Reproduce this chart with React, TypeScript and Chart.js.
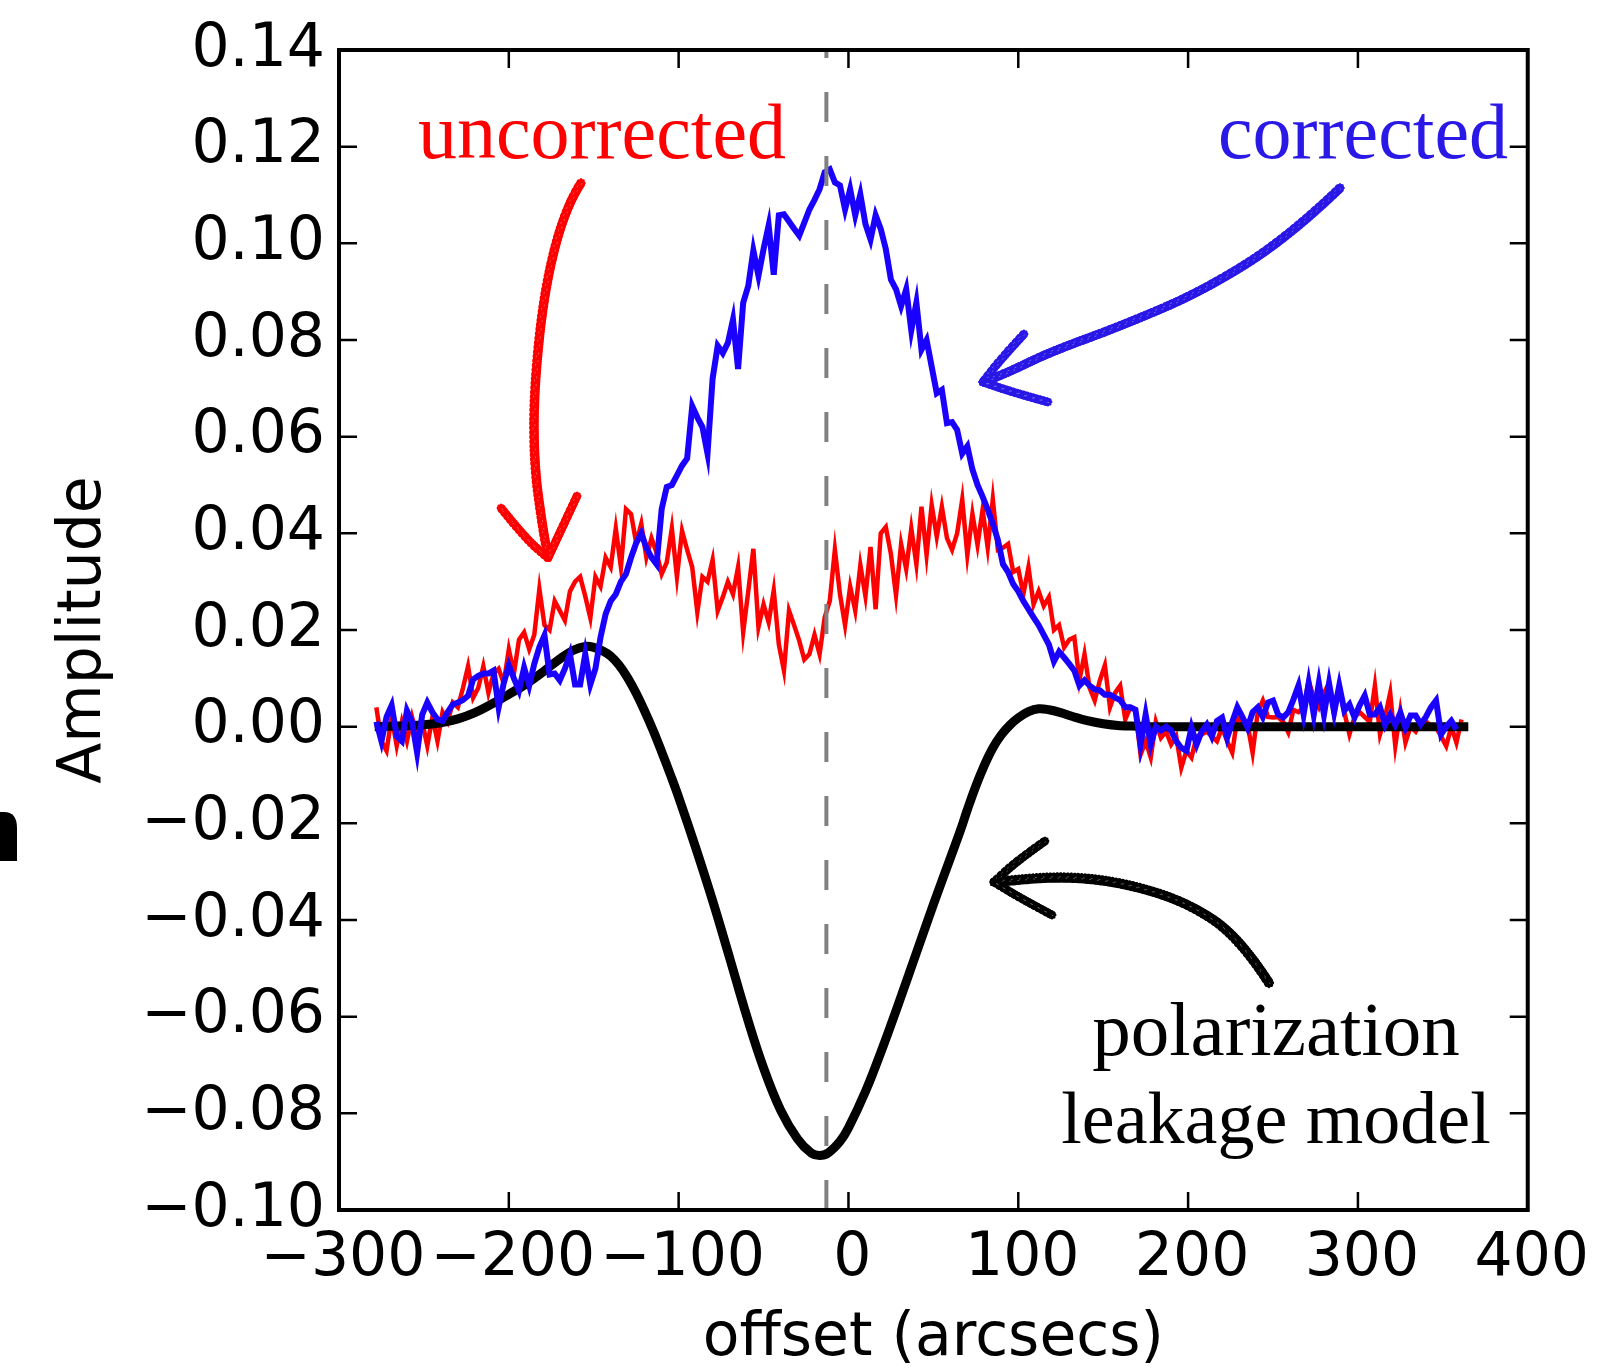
import React, { useEffect, useRef } from "react";
import { Chart, registerables } from "chart.js";

Chart.register(...registerables);

// ---- data -------------------------------------------------------------
// offsets sampled on a regular grid (arcsec) for the two measured profiles
const GRID_START = -278;
const GRID_STEP = 3;

// uncorrected amplitude (red)
const uncorrected = [
  0.004, -0.003, -0.005, 0.002, -0.004, 0.001, -0.003, 0.002, -0.002, 0.001,
  -0.004, 0.002, -0.003, 0.003, 0.001, 0.005, 0.004, 0.008, 0.0125, 0.006,
  0.008, 0.0125, 0.007, 0.011, 0.012, 0.009, 0.016, 0.011, 0.018, 0.0195,
  0.016, 0.019, 0.0285, 0.021, 0.020, 0.026, 0.024, 0.022, 0.028, 0.030,
  0.031, 0.027, 0.0225, 0.031, 0.029, 0.035, 0.033, 0.041, 0.033, 0.045,
  0.044, 0.038, 0.042, 0.035, 0.039, 0.036, 0.0316, 0.034, 0.041, 0.031,
  0.0405, 0.0366, 0.033, 0.0237, 0.031, 0.030, 0.0345, 0.024, 0.0268, 0.030,
  0.0274, 0.033, 0.0195, 0.028, 0.0368, 0.0206, 0.0253, 0.0216, 0.0282, 0.017,
  0.0116, 0.024, 0.021, 0.0178, 0.0139, 0.015, 0.019, 0.015, 0.0226, 0.026,
  0.0366, 0.0274, 0.021, 0.029, 0.024, 0.0334, 0.027, 0.0372, 0.0243, 0.040,
  0.0413, 0.0357, 0.0272, 0.0378, 0.0326, 0.041, 0.0336, 0.0455, 0.0355, 0.0459,
  0.0393, 0.0455, 0.039, 0.0366, 0.040, 0.047, 0.0355, 0.044, 0.0376, 0.0449,
  0.037, 0.047, 0.0366, 0.037, 0.0378, 0.032, 0.0326, 0.0274, 0.033, 0.0253,
  0.028, 0.025, 0.0268, 0.020, 0.021, 0.0164, 0.018, 0.0185, 0.0096, 0.015,
  0.008, 0.0054, 0.0095, 0.0127, 0.004, 0.007, 0.0085, 0.0015, 0.004, 0.0035,
  -0.0058, -0.003, -0.0064, 0.001, -0.0023, -0.001, -0.0037, -0.002, -0.0085, -0.005,
  -0.0064, -0.002, -0.0016, -0.001, -0.002, -0.003, -0.0002, -0.003, -0.0054, 0.0019,
  0.001, 0.0005, -0.0054, 0.003, 0.0054, 0.002, 0.0019, 0.002, 0.001, -0.0012,
  0.0035, 0.003, 0.004, 0.0095, 0.006, 0.004, 0.007, 0.009, 0.0025, 0.008,
  0.003, -0.0016, 0.002, 0.003, 0.002, 0.001, 0.0085, -0.0016, 0.002, 0.007,
  -0.004, 0.0033, -0.0033, 0.0, -0.001, 0.001, 0.0012, 0.0, -0.0002, -0.002,
  -0.004, 0.0, -0.0033, 0.0015,
];

// corrected amplitude (blue)
const corrected = [
  0.001, -0.003, 0.002, 0.0044, -0.002, -0.003, 0.0033, 0.001, -0.0054, 0.0025,
  0.005, 0.003, 0.0015, 0.0012, 0.003, 0.0046, 0.005, 0.0055, 0.0064, 0.0098,
  0.0105, 0.011, 0.011, 0.0116, 0.004, 0.009, 0.0127, 0.010, 0.0075, 0.0122,
  0.0085, 0.013, 0.0165, 0.0189, 0.0108, 0.011, 0.0096, 0.012, 0.015, 0.0087,
  0.0087, 0.015, 0.0087, 0.012, 0.0185, 0.0233, 0.026, 0.0274, 0.030, 0.0316,
  0.035, 0.038, 0.040, 0.037, 0.035, 0.0336, 0.045, 0.0496, 0.050, 0.052,
  0.054, 0.0555, 0.0663, 0.064, 0.062, 0.0565, 0.072, 0.0788, 0.0773, 0.0794,
  0.0842, 0.074, 0.0877, 0.0912, 0.0985, 0.0933, 0.0988, 0.1037, 0.0935, 0.1058,
  0.106, 0.1045, 0.103, 0.1016, 0.1043, 0.107, 0.109, 0.1112, 0.1147, 0.1153,
  0.1126, 0.112, 0.107, 0.1112, 0.1058, 0.1101, 0.104, 0.1008, 0.1058, 0.103,
  0.0988, 0.0925, 0.0905, 0.087, 0.0905, 0.082, 0.0877, 0.078, 0.080, 0.0745,
  0.069, 0.0697, 0.0628, 0.063, 0.0614, 0.0565, 0.058, 0.0532, 0.050, 0.0476,
  0.0449, 0.042, 0.0386, 0.0336, 0.032, 0.0295, 0.028, 0.026, 0.0243, 0.0226,
  0.021, 0.019, 0.017, 0.0135, 0.0155, 0.0143, 0.013, 0.0116, 0.0085, 0.0096,
  0.0085, 0.0077, 0.0075, 0.0066, 0.0066, 0.006, 0.0055, 0.004, 0.004, 0.0035,
  -0.0037, 0.0025, -0.0037, 0.0, -0.0008, 0.0, -0.0008, -0.003, -0.0044, -0.005,
  -0.0002, -0.0037, -0.001, 0.0004, -0.002, 0.0012, 0.0019, -0.0023, 0.001, 0.004,
  0.002, -0.0002, 0.003, 0.004, 0.002, 0.005, 0.0054, 0.0025, 0.0019, 0.003,
  0.0056, 0.0085, 0.0025, 0.009, 0.0025, 0.009, 0.0025, 0.009, 0.003, 0.0085,
  0.0033, 0.0046, 0.0019, 0.0044, 0.0064, 0.0025, 0.0025, 0.004, 0.0004, 0.0025,
  0.0004, 0.0029, -0.0002, 0.0023, 0.0023, 0.0005, 0.002, 0.004, 0.0054, -0.0016,
  0.0, 0.0012, -0.0006,
];

// polarization leakage model (black)
const modelOffsets = [
  -279, -270, -260, -250, -240, -230, -220, -210, -200, -190, -180, -170, -162,
  -155, -150, -145, -140, -135, -130, -125, -120, -115, -110, -105, -100, -90,
  -80, -70, -60, -50, -40, -30, -22, -17, -12, -5, 0, 10, 20, 30, 40, 50, 60,
  66, 70, 75, 80, 85, 90, 95, 100, 106, 112, 118, 125, 132, 140, 150, 160, 170,
  180, 250, 300, 365,
];
const modelValues = [
  0.0, 0.0001, 0.0002, 0.0004, 0.0008, 0.0016, 0.0029, 0.0047, 0.0067, 0.0088,
  0.0113, 0.014, 0.0158, 0.0166, 0.0164, 0.0157, 0.0146, 0.0127, 0.0101, 0.0069,
  0.0032, -0.0008, -0.0052, -0.0098, -0.0146, -0.025, -0.036, -0.0478, -0.0598,
  -0.0706, -0.0793, -0.0853, -0.0882, -0.0887, -0.0882, -0.0858, -0.083, -0.0755,
  -0.0665, -0.0568, -0.0468, -0.0368, -0.0272, -0.0214, -0.0172, -0.0123, -0.008,
  -0.0044, -0.0017, 0.0003, 0.0018, 0.0031, 0.0037, 0.0035, 0.0029, 0.0021,
  0.0013, 0.0006, 0.0002, 0.0001, 0.0, 0.0, 0.0, 0.0,
];

// vertical reference (dashed) line
const referenceOffset = -13;
const referenceRange = [-0.1, 0.14];

const xTicks = [-300, -200, -100, 0, 100, 200, 300, 400];
const yTicks = [-0.1, -0.08, -0.06, -0.04, -0.02, 0, 0.02, 0.04, 0.06, 0.08, 0.1, 0.12, 0.14];

// ---- helpers ------------------------------------------------------------
const fmtMinus = (s: string) => s.replace("-", "\u2212");

function chalk(ctx: CanvasRenderingContext2D, pts: number[][], color: string, w: number) {
  ctx.save();
  ctx.strokeStyle = color;
  ctx.lineCap = "round";
  ctx.lineJoin = "round";
  const path = (dx: number, dy: number) => {
    ctx.beginPath();
    ctx.moveTo(pts[0][0] + dx, pts[0][1] + dy);
    if (pts.length === 2) {
      ctx.lineTo(pts[1][0] + dx, pts[1][1] + dy);
    } else {
      for (let i = 1; i < pts.length - 1; i++) {
        const mx = (pts[i][0] + pts[i + 1][0]) / 2;
        const my = (pts[i][1] + pts[i + 1][1]) / 2;
        ctx.quadraticCurveTo(pts[i][0] + dx, pts[i][1] + dy, mx + dx, my + dy);
      }
      const l = pts[pts.length - 1];
      ctx.lineTo(l[0] + dx, l[1] + dy);
    }
    ctx.stroke();
  };
  // solid core
  ctx.lineWidth = w * 0.7;
  path(0, 0);
  // ragged edges
  const e = w * 0.32;
  const edges = [
    [e, 0], [-e, 0], [0, e], [0, -e], [e * 0.7, e * 0.7], [-e * 0.7, -e * 0.7],
    [e * 0.7, -e * 0.7], [-e * 0.7, e * 0.7],
  ];
  ctx.lineWidth = 2;
  edges.forEach(([dx, dy], k) => {
    ctx.setLineDash([1 + (k % 3), 1.5 + (k % 2)]);
    ctx.lineDashOffset = k * 1.3;
    path(dx, dy);
  });
  // light speckles inside
  ctx.strokeStyle = "#ffffff";
  ctx.globalAlpha = 0.35;
  ctx.lineWidth = 1;
  ctx.setLineDash([1, 7]);
  ctx.lineDashOffset = 0;
  path(0.8, 0.6);
  ctx.lineDashOffset = 3.5;
  path(-1.1, -0.7);
  ctx.restore();
}

const decorPlugin = {
  id: "decor",
  afterDatasetsDraw(chart: any) {
    const { ctx, chartArea: a, scales } = chart;
    const x = scales.x;
    const y = scales.y;
    ctx.save();
    ctx.strokeStyle = "#000";
    ctx.lineWidth = 2.5;
    ctx.beginPath();
    for (const t of xTicks) {
      const px = x.getPixelForValue(t);
      ctx.moveTo(px, a.bottom);
      ctx.lineTo(px, a.bottom - 18);
      ctx.moveTo(px, a.top);
      ctx.lineTo(px, a.top + 18);
    }
    for (const t of yTicks) {
      const py = y.getPixelForValue(t);
      ctx.moveTo(a.left, py);
      ctx.lineTo(a.left + 18, py);
      ctx.moveTo(a.right, py);
      ctx.lineTo(a.right - 18, py);
    }
    ctx.stroke();
    ctx.lineWidth = 4;
    ctx.strokeRect(a.left, a.top, a.right - a.left, a.bottom - a.top);
    ctx.restore();
  },
  afterDraw(chart: any) {
    const { ctx } = chart;
    ctx.save();
    // annotations
    ctx.textBaseline = "alphabetic";
    ctx.textAlign = "left";
    ctx.font = '78px "Liberation Serif"';
    ctx.fillStyle = "#ff0000";
    ctx.fillText("uncorrected", 418, 158);
    ctx.fillStyle = "#2a18e6";
    ctx.fillText("corrected", 1218, 158);
    ctx.fillStyle = "#000";
    ctx.textAlign = "center";
    ctx.font = '77px "Liberation Serif"';
    ctx.fillText("polarization", 1276, 1055);
    ctx.font = '74px "Liberation Serif"';
    ctx.fillText("leakage model", 1276, 1143);

    // hand drawn arrows
    chalk(ctx, [[581, 183], [566, 206], [545, 285], [534, 387], [534, 465], [543, 530], [548, 556]], "#ff0000", 12);
    chalk(ctx, [[501, 508], [525, 538], [548, 558]], "#ff0000", 11);
    chalk(ctx, [[577, 496], [562, 528], [548, 558]], "#ff0000", 11);

    chalk(ctx, [[1340, 188], [1290, 236], [1205, 290], [1121, 326], [1050, 352], [1009, 372], [983, 382]], "#2a18e6", 12);
    chalk(ctx, [[1024, 334], [1000, 360], [983, 382]], "#2a18e6", 11);
    chalk(ctx, [[1048, 402], [1012, 392], [983, 382]], "#2a18e6", 11);

    chalk(ctx, [[1269, 983], [1240, 938], [1187, 902], [1121, 882], [1060, 876], [994, 882]], "#000", 13);
    chalk(ctx, [[1045, 841], [1018, 860], [994, 882]], "#000", 11);
    chalk(ctx, [[1052, 915], [1020, 898], [994, 882]], "#000", 11);

    // cropped panel letter at left edge
    ctx.fillStyle = "#000";
    ctx.beginPath();
    ctx.moveTo(0, 812);
    ctx.lineTo(4, 812);
    ctx.quadraticCurveTo(17, 812, 17, 828);
    ctx.lineTo(17, 861);
    ctx.lineTo(0, 861);
    ctx.closePath();
    ctx.fill();
    ctx.restore();
  },
};

export default function App() {
  const ref = useRef<HTMLCanvasElement | null>(null);

  useEffect(() => {
    if (!ref.current) return;
    const toPts = (vals: number[]) => vals.map((v, i) => ({ x: GRID_START + GRID_STEP * i, y: v }));
    const modelPts = modelOffsets.map((o, i) => ({ x: o, y: modelValues[i] }));
    const refPts = referenceRange.map((v) => ({ x: referenceOffset, y: v }));

    const tickFont = { family: "DejaVu Sans", size: 60 };
    const chart = new Chart(ref.current, {
      type: "line",
      data: {
        datasets: [
          {
            label: "reference",
            data: refPts,
            borderColor: "#808080",
            borderWidth: 4,
            borderDash: [30, 34],
            pointRadius: 0,
            order: 0,
          },
          {
            label: "corrected",
            data: toPts(corrected),
            borderColor: "#1a00ff",
            borderWidth: 6,
            pointRadius: 0,
            tension: 0,
            order: 1,
          },
          {
            label: "model",
            data: modelPts,
            borderColor: "#000000",
            borderWidth: 9,
            pointRadius: 0,
            tension: 0.4,
            order: 2,
          },
          {
            label: "uncorrected",
            data: toPts(uncorrected),
            borderColor: "#ff0000",
            borderWidth: 4.5,
            pointRadius: 0,
            tension: 0,
            order: 3,
          },
        ],
      },
      options: {
        responsive: false,
        animation: false,
        events: [],
        layout: { padding: { left: 0, right: 65, top: 48, bottom: 0 } },
        plugins: { legend: { display: false }, tooltip: { enabled: false } },
        scales: {
          x: {
            type: "linear",
            min: -300,
            max: 400,
            afterBuildTicks: (s: any) => {
              s.ticks = xTicks.map((v) => ({ value: v }));
            },
            afterFit: (s: any) => {
              s.height = 159;
            },
            ticks: {
              font: tickFont,
              color: "#000",
              padding: 13,
              labelOffset: 4,
              maxRotation: 0,
              autoSkip: false,
              callback: (v: any) => fmtMinus(String(Math.round(Number(v)))),
            },
            grid: { display: false, drawTicks: false },
            border: { display: false },
            title: {
              display: true,
              text: "offset (arcsecs)",
              color: "#000",
              font: { family: "DejaVu Sans", size: 60, lineHeight: 1 },
              padding: { top: 0, bottom: 0 },
            },
          },
          y: {
            type: "linear",
            min: -0.1,
            max: 0.14,
            afterBuildTicks: (s: any) => {
              s.ticks = yTicks.map((v) => ({ value: v }));
            },
            afterFit: (s: any) => {
              s.width = 339;
            },
            ticks: {
              font: tickFont,
              color: "#000",
              padding: 14,
              autoSkip: false,
              callback: (v: any) => {
                const n = Number(v);
                if (Math.abs(n) < 1e-9) return "0.00";
                return fmtMinus(n.toFixed(2));
              },
            },
            grid: { display: false, drawTicks: false },
            border: { display: false },
            title: {
              display: true,
              text: "Amplitude",
              color: "#000",
              font: { family: "DejaVu Sans", size: 60, lineHeight: 1 },
              padding: { top: 54, bottom: 0 },
            },
          },
        },
      },
      plugins: [decorPlugin],
    } as any);
    return () => chart.destroy();
  }, []);

  return (
    <div style={{ position: "absolute", left: 0, top: 0, width: 1598, height: 1369, background: "#fff" }}>
      <canvas ref={ref} width={1598} height={1369} style={{ display: "block", width: 1598, height: 1369 }} />
    </div>
  );
}
